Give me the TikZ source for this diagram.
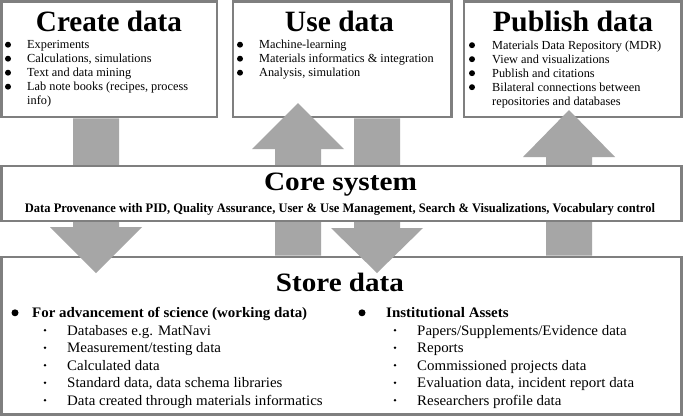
\documentclass[tikz,border=0pt]{standalone}
\usepackage{fontspec}
\usepackage{graphicx}
\setmainfont{Liberation Serif}
\newfontfamily\bodyf{Liberation Serif}
\newfontfamily\storef{Liberation Serif}[FakeStretch=1.03]
\newcommand{\fitw}[2]{\resizebox{#1}{\height}{#2}}
\definecolor{boxgray}{HTML}{7F7F7F}
\definecolor{arrowgray}{HTML}{A6A6A6}
\tikzset{
  boxst/.style={draw=boxgray, line width=2.5pt, fill=white, inner sep=0pt, rectangle},
  arrowst/.style={fill=arrowgray, draw=none},
  bigtitle/.style={anchor=base, inner sep=0pt, font=\bfseries\fontsize{29.5}{30}\selectfont},
  midtitle/.style={anchor=base, inner sep=0pt, font=\bfseries\fontsize{26.5}{27}\selectfont},
  subline/.style={anchor=base, inner sep=0pt, font=\bfseries\fontsize{13}{14}\selectfont},
  item/.style={anchor=base west, inner sep=0pt, font=\bodyf\fontsize{12.3}{14}\selectfont},
  sitem/.style={anchor=base west, inner sep=0pt, font=\storef\fontsize{14.5}{16}\selectfont},
  sitemb/.style={anchor=base west, inner sep=0pt, font=\storef\bfseries\fontsize{14.5}{16}\selectfont},
  bul/.style={circle, fill=black, draw=none, inner sep=0pt, minimum size=6pt},
  bigbul/.style={circle, fill=black, draw=none, inner sep=0pt, minimum size=7pt},
  smallbul/.style={circle, fill=black, draw=none, inner sep=0pt, minimum size=2.8pt},
}
\begin{document}
\begin{tikzpicture}[x=1pt, y=-1pt]
\fill[white] (0,0) rectangle (683,416);
\useasboundingbox (0,0) rectangle (683,416);

% boxes
\node[boxst, minimum width=215.5pt, minimum height=115.5pt] (create) at (109.25,59.25) {};
\node[boxst, minimum width=218.5pt, minimum height=115.5pt] (use) at (342.25,59.25) {};
\node[boxst, minimum width=217.5pt, minimum height=115.5pt] (publish) at (572.75,59.25) {};
\node[boxst, minimum width=680pt, minimum height=157.5pt] (store) at (341.5,335.75) {};

% block arrows
\fill[arrowst] (73,118.3) -- (119,118.3) -- (119,227) -- (142,227) -- (96,273) -- (50,227) -- (73,227) -- cycle;
\fill[arrowst] (275,255.7) -- (321,255.7) -- (321,149) -- (344,149) -- (298,103) -- (252,149) -- (275,149) -- cycle;
\fill[arrowst] (354,118.3) -- (400,118.3) -- (400,228) -- (423,228) -- (377,273) -- (331,228) -- (354,228) -- cycle;
\fill[arrowst] (546,255.7) -- (592,255.7) -- (592,157) -- (615,157) -- (569,110) -- (523,157) -- (546,157) -- cycle;

% core
\node[boxst, minimum width=680pt, minimum height=55pt] (core) at (341.5,193.5) {};

% titles
\node[bigtitle] (tcreate) at (109,31.7) {\fitw{146pt}{Create data}};
\node[bigtitle] (tuse) at (339.5,31.7) {\fitw{109pt}{Use data}};
\node[bigtitle] (tpublish) at (573,31.7) {\fitw{160pt}{Publish data}};
\node[midtitle] (tcore) at (340.5,190.7) {\fitw{153pt}{Core system}};
\node[subline] (tcoresub) at (340,212) {\fitw{630pt}{Data Provenance with PID, Quality Assurance, User \& Use Management, Search \& Visualizations, Vocabulary control}};
\node[midtitle] (tstore) at (340,291.7) {\fitw{128pt}{Store data}};

% create list
\foreach \t [count=\i] in {Experiments, {Calculations, simulations}, Text and data mining, {Lab note books (recipes, process}} {
  \node[item] (ci\i) at (27,34.5+14*\i) {\t};
  \node[bul] (cb\i) at (8,34.5+14*\i-3.8) {};
}
\node[item] (ci5) at (27,104.5) {info)};

% use list
\foreach \t [count=\i] in {Machine-learning, Materials informatics \& integration, {Analysis, simulation}} {
  \node[item] (ui\i) at (259,34.5+14*\i) {\t};
  \node[bul] (ub\i) at (240,34.5+14*\i-3.8) {};
}

% publish list
\foreach \t [count=\i] in {Materials Data Repository (MDR), View and visualizations, Publish and citations, Bilateral connections between} {
  \node[item] (pi\i) at (492,35+14*\i) {\t};
  \node[bul] (pb\i) at (472,35+14*\i-3.8) {};
}
\node[item] (pi5) at (492,105) {repositories and databases};

% store lists
\node[sitemb] (sa) at (32,317.5) {For advancement of science (working data)};
\node[bigbul] (sab) at (15,312.8) {};
\foreach \t [count=\i] in {Databases e.g. MatNavi, Measurement/testing data, Calculated data, {Standard data, data schema libraries}, Data created through materials informatics} {
  \node[sitem] (sai\i) at (67,317.5+17.5*\i) {\t};
  \node[smallbul] (sab\i) at (45,317.5+17.5*\i-4.8) {};
}
\node[sitemb] (sb) at (386,317.5) {Institutional Assets};
\node[bigbul] (sbb) at (362,312.8) {};
\foreach \t [count=\i] in {Papers/Supplements/Evidence data, Reports, Commissioned projects data, {Evaluation data, incident report data}, Researchers profile data} {
  \node[sitem] (sbi\i) at (417,317.5+17.5*\i) {\t};
  \node[smallbul] (sbb\i) at (395,317.5+17.5*\i-4.8) {};
}
\end{tikzpicture}
\end{document}
